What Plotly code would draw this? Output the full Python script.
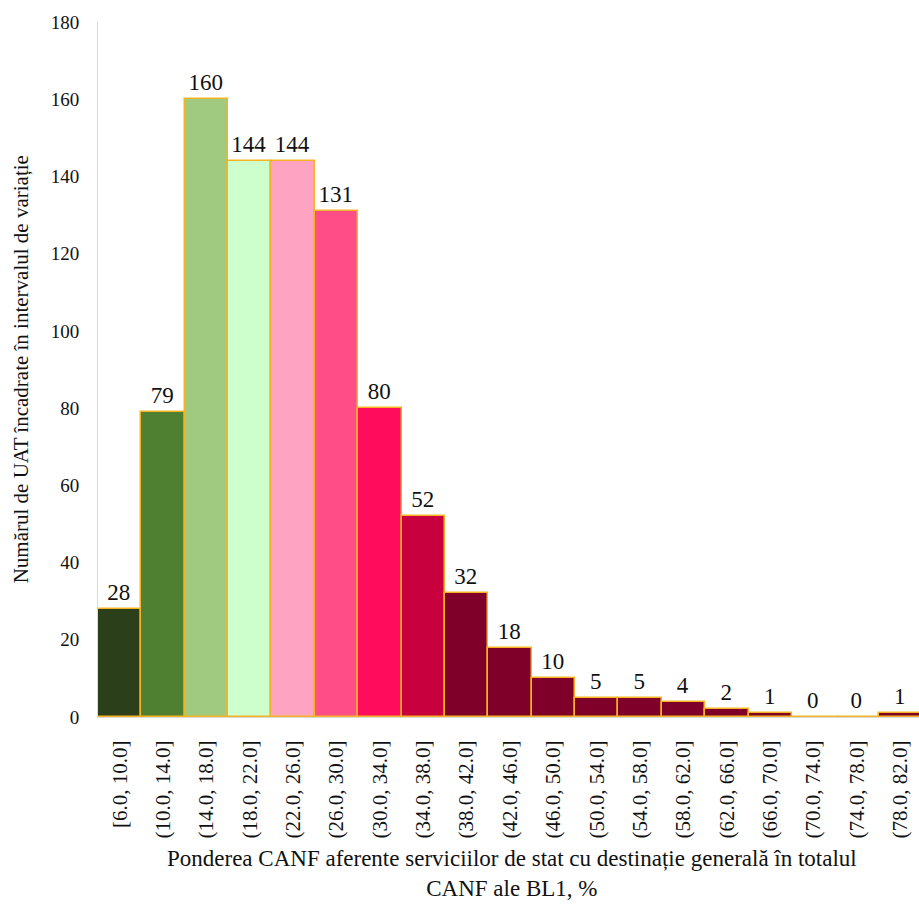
import plotly.graph_objects as go

categories = ["[6.0, 10.0]", "(10.0, 14.0]", "(14.0, 18.0]", "(18.0, 22.0]", "(22.0, 26.0]",
              "(26.0, 30.0]", "(30.0, 34.0]", "(34.0, 38.0]", "(38.0, 42.0]", "(42.0, 46.0]",
              "(46.0, 50.0]", "(50.0, 54.0]", "(54.0, 58.0]", "(58.0, 62.0]", "(62.0, 66.0]",
              "(66.0, 70.0]", "(70.0, 74.0]", "(74.0, 78.0]", "(78.0, 82.0]"]
counts = [28, 79, 160, 144, 144, 131, 80, 52, 32, 18, 10, 5, 5, 4, 2, 1, 0, 0, 1]
colors = ["#2a3f1a", "#4f7f30", "#9fca7f", "#ccffcc", "#ffa3c3", "#ff4d88", "#ff0d5c",
          "#c8003e"] + ["#7f0028"] * 11

y_ticks = [0, 20, 40, 60, 80, 100, 120, 140, 160, 180]

FONT = "Liberation Serif"

fig = go.Figure()
fig.add_trace(go.Bar(
    x=categories, y=counts,
    marker=dict(color=colors, line=dict(color="#f5b324", width=1.5)),
    text=[str(v) for v in counts], textposition="outside",
    textfont=dict(family=FONT, size=23, color="#111111"),
    cliponaxis=False,
))

fig.update_layout(
    width=919, height=905,
    margin=dict(l=98, r=0, t=22, b=188),
    paper_bgcolor="white", plot_bgcolor="white",
    bargap=0, showlegend=False,
    font=dict(family=FONT, color="#111111"),
    xaxis=dict(
        type="category", tickangle=-90, tickfont=dict(family=FONT, size=21, color="#111111"),
        showgrid=False, showline=True, linecolor="#d9d9d9", linewidth=1,
        ticks="", ticklabelstandoff=14, range=[-0.5, 18.43],
    ),
    yaxis=dict(
        range=[0, 180], tickvals=y_ticks, tickfont=dict(family=FONT, size=19, color="#111111"),
        showgrid=False, showline=True, linecolor="#d9d9d9", linewidth=1,
        ticks="", zeroline=False, ticklabelstandoff=14,
    ),
    annotations=[
        dict(text="Numărul de UAT încadrate în intervalul de variație", xref="paper", yref="paper",
             x=-0.094, y=0.5, xanchor="center", yanchor="middle", textangle=-90, showarrow=False,
             font=dict(family=FONT, size=21, color="#111111")),
        dict(text="Ponderea CANF aferente serviciilor de stat cu destinație generală în totalul<br>CANF ale BL1, %",
             xref="paper", yref="paper", x=0.504, y=-0.268, xanchor="center", yanchor="bottom",
             showarrow=False, font=dict(family=FONT, size=23, color="#111111")),
    ],
)

fig.write_html("out.html")
